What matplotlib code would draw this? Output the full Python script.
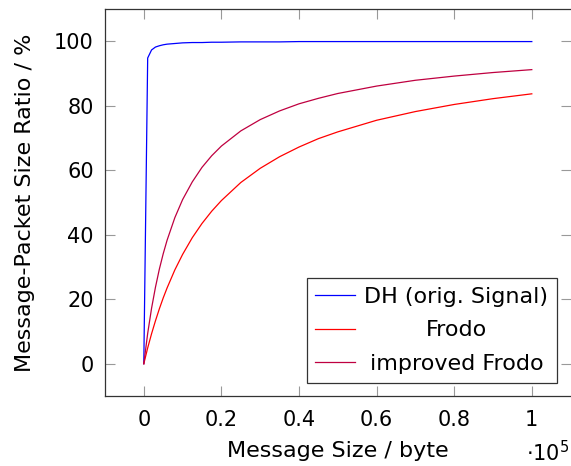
import matplotlib
matplotlib.use("Agg")
import matplotlib.pyplot as plt
from matplotlib.ticker import FuncFormatter, MultipleLocator
from matplotlib.transforms import Affine2D

plt.rcParams['font.family'] = ['DejaVu Sans']
plt.rcParams['mathtext.fontset'] = 'dejavusans'

# message size in byte
msg_size = [0, 1000, 2000, 3000, 4000, 5000, 6000, 8000, 10000, 12500, 15000, 17500,
            20000, 25000, 30000, 35000, 40000, 45000, 50000, 60000, 70000, 80000,
            90000, 100000]

# message-packet size ratio in %
dh_ratio = [0, 94.8, 97.3, 98.2, 98.6, 98.9, 99.1, 99.3, 99.5, 99.6, 99.6, 99.7,
            99.7, 99.8, 99.8, 99.8, 99.9, 99.9, 99.9, 99.9, 99.9, 99.9, 99.9, 99.9]
frodo_ratio = [0, 4.9, 9.3, 13.3, 17.0, 20.4, 23.5, 29.1, 33.9, 39.1, 43.5, 47.3,
               50.6, 56.2, 60.6, 64.2, 67.2, 69.8, 71.9, 75.5, 78.2, 80.4, 82.2, 83.7]
improved_ratio = [0, 9.4, 17.2, 23.7, 29.3, 34.1, 38.3, 45.3, 50.9, 56.4, 60.9, 64.5,
                  67.5, 72.2, 75.7, 78.4, 80.6, 82.3, 83.8, 86.1, 87.9, 89.2, 90.3, 91.2]

labels = ["DH (orig. Signal)", "Frodo", "improved Frodo"]
colors = ["#0000ff", "#ff0000", "#bf0040"]

fig = plt.figure(figsize=(5.71, 4.66), dpi=100)
ax = fig.add_axes([105 / 571, 70 / 466, 465.6 / 571, 387 / 466])

for ys, lab, c in zip([dh_ratio, frodo_ratio, improved_ratio], labels, colors):
    ax.plot(msg_size, ys, color=c, lw=0.9, label=lab)

ax.set_xlim(-10000, 110000)
ax.set_ylim(-10, 110)
ax.xaxis.set_major_locator(MultipleLocator(20000))
ax.yaxis.set_major_locator(MultipleLocator(20))
ax.xaxis.set_major_formatter(FuncFormatter(lambda v, p: "%g" % round(v / 1e5, 2)))

fs_tick = 15
fs_lab = 16
ax.tick_params(direction="in", length=7, width=0.8, color="#999999",
               labelsize=fs_tick, top=True, right=True)
ax.tick_params(axis="x", pad=10)
ax.tick_params(axis="y", pad=8)
for s in ax.spines.values():
    s.set_color("#333333")
    s.set_linewidth(0.9)
ax.spines["right"].set_visible(False)

ax.set_xlabel("Message Size / byte", fontsize=fs_lab, labelpad=8)
ax.set_ylabel("Message-Packet Size Ratio / %", fontsize=fs_lab, labelpad=14)
fig.text(569 / 571, 1 - 453 / 466, r"$\cdot 10^5$", fontsize=fs_tick, ha="right", va="center")

leg = ax.legend(loc="lower right", fontsize=fs_lab, frameon=True, fancybox=False,
                edgecolor="#333333", framealpha=1, borderaxespad=0.6,
                handlelength=1.8, handletextpad=0.4, labelspacing=0.6, borderpad=0.4)
leg.get_frame().set_linewidth(0.9)

# center the legend texts like pgfplots does
fig.canvas.draw()
r = fig.canvas.get_renderer()
texts = leg.get_texts()
widths = [t.get_window_extent(r).width for t in texts]
wmax = max(widths)
for t, w in zip(texts, widths):
    t.set_transform(t.get_transform() + Affine2D().translate((wmax - w) / 2, 0))

fig.savefig("out.png", dpi=100)
